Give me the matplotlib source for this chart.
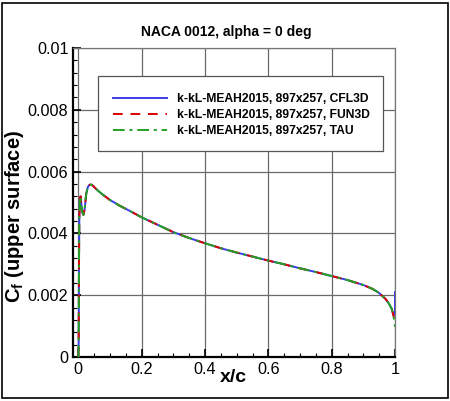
import numpy as np
import matplotlib
matplotlib.use('Agg')
import matplotlib.pyplot as plt
from matplotlib.patches import Rectangle
from matplotlib.ticker import MultipleLocator

plt.rcParams['font.family'] = ['Liberation Sans', 'DejaVu Sans']
plt.rcParams['mathtext.fontset'] = 'custom'
plt.rcParams['mathtext.rm'] = 'Liberation Sans'
plt.rcParams['mathtext.bf'] = 'Liberation Sans:bold'

# skin friction on the upper surface
x_common = [0.0, 0.001, 0.002, 0.003, 0.005, 0.007, 0.009, 0.012, 0.016, 0.020,
            0.025, 0.030, 0.035, 0.040, 0.045, 0.05, 0.06, 0.08, 0.10, 0.13,
            0.16, 0.2, 0.25, 0.3, 0.35, 0.4, 0.45, 0.5, 0.55, 0.6,
            0.65, 0.7, 0.75, 0.8, 0.85, 0.9, 0.93, 0.95, 0.97, 0.98,
            0.99, 0.995]
cf_common = [0.0, 0.0005, 0.0030, 0.0045, 0.0051, 0.0052, 0.0050, 0.0047, 0.0046, 0.0048,
             0.0053, 0.0055, 0.00557, 0.00558, 0.00555, 0.00550, 0.00540, 0.00523, 0.00508, 0.00490,
             0.00474, 0.00452, 0.00428, 0.00404, 0.00385, 0.00368, 0.00352, 0.00338, 0.00325, 0.00312,
             0.00300, 0.00287, 0.00275, 0.00262, 0.00249, 0.00233, 0.00220, 0.00207, 0.00188, 0.00174,
             0.00155, 0.00135]

x_cfl3d = x_common + [1.0, 1.0]
cf_cfl3d = cf_common + [0.00140, 0.00210]
x_fun3d = x_common + [1.0]
cf_fun3d = cf_common + [0.00110]
x_tau = x_common + [1.0]
cf_tau = cf_common + [0.00098]

labels = ['k-kL-MEAH2015, 897x257, CFL3D',
          'k-kL-MEAH2015, 897x257, FUN3D',
          'k-kL-MEAH2015, 897x257, TAU']

xticks = [0, 0.2, 0.4, 0.6, 0.8, 1.0]
xticklabels = ['0', '0.2', '0.4', '0.6', '0.8', '1']
yticks = [0, 0.002, 0.004, 0.006, 0.008, 0.01]
yticklabels = ['0', '0.002', '0.004', '0.006', '0.008', '0.01']

fig = plt.figure(figsize=(4.5, 4.01), dpi=100)
ax = fig.add_axes([73.3 / 450, 44 / 401, 321.7 / 450, 309 / 401])

ax.plot(x_cfl3d, cf_cfl3d, color='#3c3cf0', lw=1.4, label=labels[0], zorder=5)
ax.plot(x_fun3d, cf_fun3d, color='#dd0000', lw=1.4, ls=(0, (5, 4)), label=labels[1], zorder=6)
ax.plot(x_tau, cf_tau, color='#22a022', lw=1.4, ls=(0, (6, 2.5, 1.5, 2.5)), label=labels[2], zorder=7)

ax.set_xlim(-0.016, 1.0)
ax.set_ylim(0, 0.01)
ax.set_xticks(xticks)
ax.set_xticklabels(xticklabels)
ax.set_yticks(yticks)
ax.set_yticklabels(yticklabels)
ax.xaxis.set_minor_locator(MultipleLocator(0.05))
ax.yaxis.set_minor_locator(MultipleLocator(0.0004))
ax.tick_params(which='both', direction='in', top=False, right=False, labelsize=11.7)
ax.tick_params(which='major', length=5.5, width=1.2, pad=3.5)
ax.tick_params(which='minor', length=3, width=0.8)

ax.grid(True, which='major', color='#6a6a6a', lw=0.9)
ax.set_axisbelow(True)
for side in ['left', 'bottom']:
    ax.spines[side].set_linewidth(1.6)
    ax.spines[side].set_color('black')
for side in ['top', 'right']:
    ax.spines[side].set_linewidth(0.9)
    ax.spines[side].set_color('#777777')

# legend box drawn separately, Tecplot style
box = Rectangle((0.078, 0.668), 0.885, 0.241, transform=ax.transAxes,
                facecolor='white', edgecolor='#555555', lw=0.9, zorder=3)
ax.add_patch(box)
leg = ax.legend(loc='center left', bbox_to_anchor=(0.124, 0.782), frameon=False,
                prop={'weight': 'bold', 'size': 8.7}, handlelength=4.47, handletextpad=0.8,
                labelspacing=0.33, borderpad=0, borderaxespad=0)
leg.set_zorder(8)

fig.text(0.504, 1 - 31.7 / 401, 'NACA 0012, alpha = 0 deg', ha='center', va='center',
         fontsize=10, fontweight='bold')
fig.text(233 / 450, 1 - 378 / 401, 'x/c', ha='center', va='center',
         fontsize=14, fontweight='bold')
fig.text(15 / 450, 1 - 216.7 / 401, r'C$_{\mathbf{f}}$ (upper surface)', ha='center', va='center',
         rotation=90, fontsize=14.5, fontweight='bold')

fig.patches.append(Rectangle((2 / 450, 3 / 401), 446 / 450, 395 / 401, transform=fig.transFigure,
                             fill=False, edgecolor='black', lw=1.2))

fig.savefig('out.png', dpi=100)
